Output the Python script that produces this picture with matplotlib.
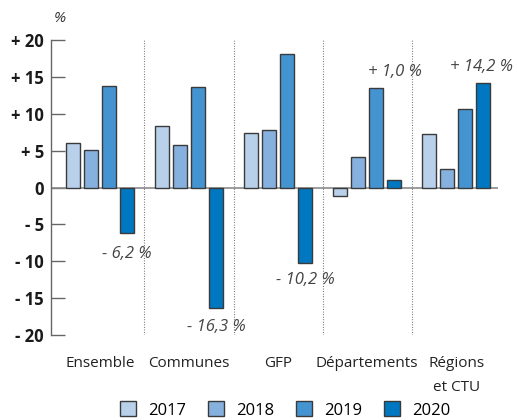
import matplotlib
matplotlib.use("Agg")
import matplotlib.pyplot as plt
from matplotlib.patches import Patch
import numpy as np

categories = ["Ensemble", "Communes", "GFP", "Départements", "Régions\net CTU"]
years = ["2017", "2018", "2019", "2020"]
v2017 = [6.1, 8.4, 7.4, -1.1, 7.2]
v2018 = [5.1, 5.8, 7.8, 4.1, 2.5]
v2019 = [13.7, 13.6, 18.1, 13.5, 10.6]
v2020 = [-6.2, -16.3, -10.2, 1.0, 14.2]
annot_labels = ["- 6,2 %", "- 16,3 %", "- 10,2 %", "+ 1,0 %", "+ 14,2 %"]
yticks = [20, 15, 10, 5, 0, -5, -10, -15, -20]
ytick_labels = ["+ 20", "+ 15", "+ 10", "+ 5", "0", "- 5", "- 10", "- 15", "- 20"]

colors = ["#b9d0ea", "#86b1df", "#4494d2", "#0077c1"]
series = [v2017, v2018, v2019, v2020]

plt.rcParams['font.family'] = ['Open Sans', 'DejaVu Sans']

fig = plt.figure(figsize=(5.17, 4.20), dpi=100)
ax = fig.add_axes([51/517, 1-335/420, (498-51)/517, (335-40)/420])

x = np.arange(len(categories))
width = 0.157
offsets = [-0.3, -0.1, 0.1, 0.3]
for s, c, off in zip(series, colors, offsets):
    ax.bar(x + off, s, width, color=c, edgecolor="#3a3a3a", linewidth=1.0, zorder=3)

ax.set_xlim(-0.55, 4.47)
ax.set_ylim(-20, 20)

# separators
for sx in x[:-1] + 0.5:
    ax.axvline(sx, color="#666666", linestyle=(0, (0.8, 1.5)), linewidth=0.8, zorder=1)

ax.axhline(0, color="#8a8a8a", linewidth=1.2, zorder=2)

for side in ["top", "right", "bottom"]:
    ax.spines[side].set_visible(False)
ax.spines["left"].set_color("#666666")
ax.spines["left"].set_linewidth(1.0)

ax.set_yticks(yticks)
ax.set_yticklabels(ytick_labels, fontsize=12, fontweight="bold", color="#1a1a1a")
ax.tick_params(axis="y", direction="in", length=10, width=1.0, color="#666666", pad=5)
ax.set_xticks([])

for xi, lab in zip(x, categories):
    ax.text(xi, -22.9, lab, ha="center", va="top", fontsize=11, color="#222222",
            linespacing=1.75)

# annotations
ann_pos = [(127, 254), (216, 327), (305, 280), (395, 72), (482, 67)]
for (px, py), lab in zip(ann_pos, annot_labels):
    fig.text(px/517, 1-py/420, lab, ha="center", va="center", fontsize=12,
             style="italic", color="#444444")

fig.text(60/517, 1-18/420, "%", ha="center", va="center", fontsize=11,
         style="italic", color="#333333")

handles = [Patch(facecolor=c, edgecolor="#3a3a3a", linewidth=1.0) for c in colors]
fig.legend(handles, years, loc="center", bbox_to_anchor=(285/517, 1-410/420),
           ncol=4, frameon=False, fontsize=12, handlelength=1.0, handleheight=1.0,
           columnspacing=1.3, handletextpad=0.7, borderpad=0)

fig.savefig("out.png", dpi=100)
